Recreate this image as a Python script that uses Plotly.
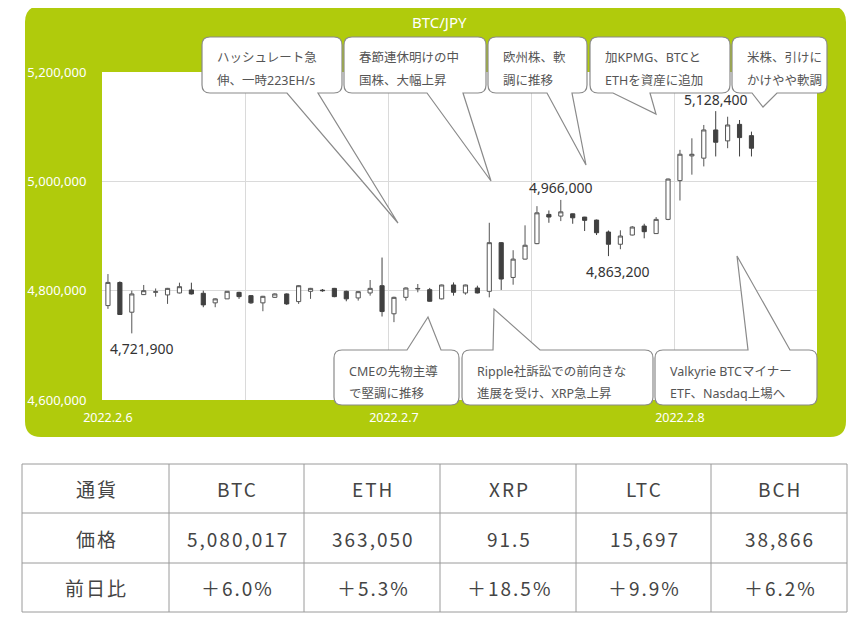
import pandas as pd
import plotly.graph_objects as go

# page body keeps an 8px margin, so the figure is drawn 8px smaller and
# every reference pixel position is shifted by OFF
W, H = 862, 621
OFF = 8
FW, FH = W - OFF, H - OFF

# ---- chart data (hourly BTC/JPY candles) ----
times = pd.date_range("2022-02-06 00:00", periods=55, freq="h")

opens = [4772700, 4815000, 4760600, 4792800, 4797000, 4792200, 4795800, 4801300,
         4795200, 4777700, 4785000, 4796900, 4790900, 4777700, 4787800, 4794000,
         4780000, 4798800, 4801000, 4804200, 4798800, 4786700, 4795800, 4809100,
         4757700, 4787800, 4803000, 4801800, 4785000, 4810400, 4795800, 4804900,
         4798800, 4887800, 4824200, 4857700, 4886000, 4939500, 4936400, 4940600,
         4934600, 4929100, 4907300, 4884900, 4901800, 4918200, 4904400, 4930400,
         5001300, 5046500, 5042400, 5094000, 5074000, 5104200, 5083600]
highs = [4830400, 4817000, 4800000, 4810400, 4804000, 4805000, 4814600, 4814600,
         4800000, 4786000, 4799000, 4798000, 4792000, 4790500, 4795000, 4795000,
         4810000, 4805000, 4803000, 4805000, 4800000, 4799000, 4819500, 4860600,
         4789000, 4806000, 4812200, 4805000, 4811000, 4815100, 4811000, 4809100,
         4924200, 4889000, 4874000, 4919500, 4954600, 4946700, 4966000, 4941000,
         4935000, 4930000, 4910000, 4910400, 4918000, 4922400, 4934600, 5005000,
         5057600, 5078700, 5103100, 5128400, 5118200, 5112200, 5090900]
lows = [4766700, 4756000, 4721900, 4792000, 4789000, 4775800, 4795000, 4793000,
        4769700, 4769700, 4785000, 4785000, 4776000, 4762400, 4787000, 4774000,
        4775800, 4785000, 4798000, 4788000, 4780600, 4781800, 4790900, 4752700,
        4742400, 4781800, 4797000, 4780000, 4784000, 4790900, 4792700, 4795000,
        4787800, 4801300, 4810900, 4857000, 4885000, 4924200, 4927300, 4922400,
        4909100, 4901800, 4863200, 4875800, 4901000, 4895800, 4904000, 4929000,
        4964900, 5012200, 5027300, 5045500, 5060600, 5045500, 5045500]
closes = [4815100, 4756400, 4794000, 4800000, 4798000, 4804200, 4807300, 4794000,
          4774000, 4785000, 4798800, 4789100, 4777700, 4789700, 4794000, 4775800,
          4809100, 4804200, 4800000, 4789100, 4785000, 4798200, 4804200, 4761800,
          4787800, 4804900, 4804000, 4780600, 4810400, 4797000, 4810400, 4795800,
          4887800, 4821300, 4857700, 4883100, 4942400, 4934700, 4944200, 4933300,
          4928600, 4906000, 4884900, 4900000, 4916400, 4907900, 4930400, 5004200,
          5049600, 5049500, 5094000, 5071500, 5103100, 5080000, 5060600]

day_ticks = ["2022-02-06", "2022-02-07", "2022-02-08"]
day_labels = ["2022.2.6", "2022.2.7", "2022.2.8"]

# marked extremes: (price, "high"/"low")
marked_prices = [(4721900, "low"), (4966000, "high"), (4863200, "low"), (5128400, "high")]

news_top = [
    ("ハッシュレート急", "伸、一時223EH/s"),
    ("春節連休明けの中", "国株、大幅上昇"),
    ("欧州株、軟", "調に推移"),
    ("加KPMG、BTCと", "ETHを資産に追加"),
    ("米株、引けに", "かけやや軟調"),
]
news_bottom = [
    ("CMEの先物主導", "で堅調に推移"),
    ("Ripple社訴訟での前向きな", "進展を受け、XRP急上昇"),
    ("Valkyrie BTCマイナー", "ETF、Nasdaq上場へ"),
]

table_header = ["通貨", "BTC", "ETH", "XRP", "LTC", "BCH"]
table_price = ["価格", "5,080,017", "363,050", "91.5", "15,697", "38,866"]
table_change = ["前日比", "＋6.0%", "＋5.3%", "＋18.5%", "＋9.9%", "＋6.2%"]

# ---- layout geometry (reference pixels) ----
GREEN = "#b0cb0c"
PLOT_L, PLOT_R, PLOT_T, PLOT_B = 102, 817, 72, 400
FONT = "Noto Sans, Noto Sans CJK JP"

# box x0, y0, x1, y1, tail base x0, x1, tail tip x, y
top_boxes = [
    (202, 37, 342, 93, 287, 318, 398, 223),
    (344, 37, 486, 93, 427, 463, 491, 181),
    (488, 37, 587, 93, 547, 572, 586, 165),
    (590, 37, 730, 93, 613, 650, 656, 114),
    (732, 37, 827, 93, 752, 777, 763, 107),
]
bottom_boxes = [
    (334, 350, 459, 405, 407, 441, 428, 317),
    (462, 350, 653, 405, 493, 540, 494, 309),
    (655, 350, 817, 405, 748, 790, 737, 256),
]
table_cols = [22, 169, 304, 440, 576, 711, 847]
table_rows = [464, 513, 563, 612]


def fx(x):
    return (x - OFF) / FW


def fy(y):
    return 1 - (y - OFF) / FH


def P(x, y):
    return f"{fx(x):.5f},{fy(y):.5f}"


def rounded_path(x0, y0, x1, y1, r, tail=None):
    d = f"M {P(x0 + r, y0)}"
    if tail and tail[3] < y0:
        b0, b1, tx, ty = tail
        d += f" L {P(b0, y0)} L {P(tx, ty)} L {P(b1, y0)}"
    d += f" L {P(x1 - r, y0)} Q {P(x1, y0)} {P(x1, y0 + r)}"
    d += f" L {P(x1, y1 - r)} Q {P(x1, y1)} {P(x1 - r, y1)}"
    if tail and tail[3] > y1:
        b0, b1, tx, ty = tail
        d += f" L {P(b1, y1)} L {P(tx, ty)} L {P(b0, y1)}"
    d += f" L {P(x0 + r, y1)} Q {P(x0, y1)} {P(x0, y1 - r)}"
    d += f" L {P(x0, y0 + r)} Q {P(x0, y0)} {P(x0 + r, y0)} Z"
    return d


def paper_text(text, x, y, size, color, family=FONT, xanchor="center"):
    return dict(text=text, x=fx(x), y=fy(y), xref="paper", yref="paper",
                xanchor=xanchor, yanchor="middle", showarrow=False,
                font=dict(color=color, size=size, family=family))


fig = go.Figure()
fig.add_trace(go.Candlestick(
    x=times, open=opens, high=highs, low=lows, close=closes,
    increasing=dict(fillcolor="white", line=dict(color="#555555", width=1)),
    decreasing=dict(fillcolor="#404040", line=dict(color="#404040", width=1)),
    whiskerwidth=0, showlegend=False, hoverinfo="skip",
))

shapes = [
    dict(type="path", xref="paper", yref="paper", layer="below",
         path=rounded_path(25, 6, 846, 437, 16), fillcolor=GREEN, line=dict(width=0)),
    dict(type="rect", xref="paper", yref="paper", layer="below",
         x0=fx(PLOT_L), x1=fx(PLOT_R), y0=fy(PLOT_B), y1=fy(PLOT_T),
         fillcolor="white", line=dict(width=0)),
]
annotations = [paper_text("BTC/JPY", 439, 22, 15, "white")]

# price labels on extremes
for price, kind in marked_prices:
    if kind == "high":
        i = highs.index(price)
        ys, xs = 12, 0
    else:
        i = lows.index(price)
        ys, xs = -15, 10
    annotations.append(dict(
        x=times[i], y=price, xref="x", yref="y", text=f"{price:,}", showarrow=False,
        xanchor="center", yanchor="middle", xshift=xs, yshift=ys,
        font=dict(color="#333333", size=14, family=FONT)))

# news callouts
for texts, geo in list(zip(news_top, top_boxes)) + list(zip(news_bottom, bottom_boxes)):
    x0, y0, x1, y1, b0, b1, tx, ty = geo
    shapes.append(dict(type="path", xref="paper", yref="paper", layer="above",
                       path=rounded_path(x0, y0, x1, y1, 8, (b0, b1, tx, ty)),
                       fillcolor="white", line=dict(color="#8a8a8a", width=1.2)))
    for k, line in enumerate(texts):
        annotations.append(paper_text(line, x0 + 13, y0 + 21 + 22 * k, 12.5, "#555555",
                                      xanchor="left"))

# price table
for x in table_cols:
    shapes.append(dict(type="line", xref="paper", yref="paper",
                       x0=fx(x), x1=fx(x), y0=fy(table_rows[0]), y1=fy(table_rows[-1]),
                       line=dict(color="#9a9a9a", width=1)))
for y in table_rows:
    shapes.append(dict(type="line", xref="paper", yref="paper",
                       x0=fx(table_cols[0]), x1=fx(table_cols[-1]), y0=fy(y), y1=fy(y),
                       line=dict(color="#9a9a9a", width=1)))
for r, row in enumerate([table_header, table_price, table_change]):
    yc = (table_rows[r] + table_rows[r + 1]) / 2
    for c, val in enumerate(row):
        xc = (table_cols[c] + table_cols[c + 1]) / 2
        annotations.append(paper_text(f'<span style="letter-spacing:2px">{val}</span>',
                                      xc + 1, yc, 19, "#444444", family="Noto Sans CJK JP"))

fig.update_layout(
    width=FW, height=FH,
    margin=dict(l=0, r=0, t=0, b=0, autoexpand=False),
    paper_bgcolor="white", plot_bgcolor="rgba(0,0,0,0)",
    font=dict(family=FONT),
    boxgap=0.5,
    shapes=shapes, annotations=annotations,
    xaxis=dict(
        type="date", domain=[fx(PLOT_L), fx(PLOT_R)], automargin=False,
        range=["2022-02-05 23:30", "2022-02-08 11:30"],
        tickmode="array", tickvals=day_ticks, ticktext=day_labels,
        showgrid=False, zeroline=False, showline=False,
        ticks="outside", ticklen=6, tickcolor="rgba(0,0,0,0)",
        tickfont=dict(color="white", size=12.5),
        minor=dict(tick0="2022-02-05 23:30", dtick=12 * 3600 * 1000,
                   showgrid=True, gridcolor="#dadada", gridwidth=1),
        rangeslider=dict(visible=False),
    ),
    yaxis=dict(
        domain=[fy(PLOT_B), fy(PLOT_T)], automargin=False,
        range=[4600000, 5200000], dtick=200000, tickformat=",d",
        showgrid=True, gridcolor="#dadada", zeroline=False, showline=False,
        ticks="outside", ticklen=12, tickcolor="rgba(0,0,0,0)",
        tickfont=dict(color="white", size=13),
    ),
)

fig.write_html("out.html")
